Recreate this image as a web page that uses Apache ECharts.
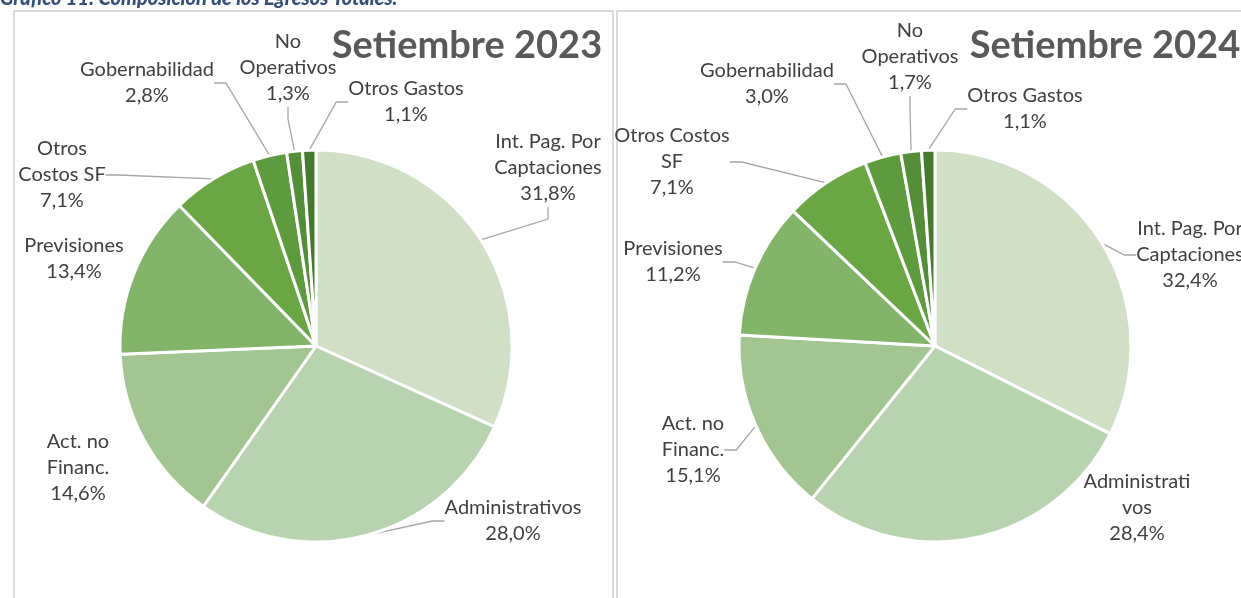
<!DOCTYPE html>
<html><head><meta charset="utf-8">
<script src="https://cdn.jsdelivr.net/npm/echarts@6/dist/echarts.min.js"></script>
<style>html,body{margin:0;padding:0;background:#fff;}#c{width:1241px;height:598px;}</style>
</head><body><div id="c"></div>
<script>
// ---- data ----
const categories = ['Int. Pag. Por Captaciones','Administrativos','Act. no Financ.','Previsiones','Otros Costos SF','Gobernabilidad','No Operativos','Otros Gastos'];
const values2023 = [31.8, 28.0, 14.6, 13.4, 7.1, 2.8, 1.3, 1.1];
const values2024 = [32.4, 28.4, 15.1, 11.2, 7.1, 3.0, 1.7, 1.1];
const labels2023 = ['Int. Pag. Por\nCaptaciones','Administrativos','Act. no\nFinanc.','Previsiones','Otros\nCostos SF','Gobernabilidad','No\nOperativos','Otros Gastos'];
const labels2024 = ['Int. Pag. Por\nCaptaciones','Administrati\nvos','Act. no\nFinanc.','Previsiones','Otros Costos\nSF','Gobernabilidad','No\nOperativos','Otros Gastos'];
const titles = ['Setiembre 2023','Setiembre 2024'];
const headerText = 'Gráfico 11: Composición de los Egresos Totales.';

// ---- style / layout ----
const colors = ['#CFE0C7','#B7D3AF','#A2C592','#82B46A','#6AA644','#5E9A3E','#548E38','#467A2F'];
const labelPos = [
  [[548,168],[513,521],[78,468],[74,259],[62,175],[147,83],[288,68],[406,102]],
  [[1190,255],[1137,508],[693,450],[673,262],[672,162],[767,84],[910,57],[1025,109]]
];
const lineShow = [
  [true,true,false,false,true,true,true,true],
  [true,false,true,true,true,true,true,true]
];
const FONT = 'Lato';
const fmt = v => v.toFixed(1).replace('.', ',') + '%';

function makeSeries(idx, values, labels, center) {
  return {
    type: 'pie',
    center: center,
    radius: 196,
    startAngle: 90,
    clockwise: true,
    avoidLabelOverlap: false,
    animation: false,
    itemStyle: { borderColor: '#fff', borderWidth: 3 },
    label: {
      show: true,
      position: 'outside',
      fontFamily: FONT,
      fontSize: 20,
      lineHeight: 26,
      color: '#404040',
      align: 'center',
      formatter: p => labels[p.dataIndex] + '\n' + fmt(p.value)
    },
    labelLine: { show: true, length: 10, length2: 12, lineStyle: { color: '#A6A6A6', width: 1.3 } },
    labelLayout: function (p) {
      const pos = labelPos[idx][p.dataIndex];
      return { x: pos[0], y: pos[1], align: 'center', verticalAlign: 'middle', hideOverlap: false };
    },
    emphasis: { disabled: true },
    data: values.map((v, i) => ({
      name: categories[i], value: v,
      itemStyle: { color: colors[i] },
      labelLine: { show: lineShow[idx][i] }
    }))
  };
}

const chart = echarts.init(document.getElementById('c'), null, { renderer: 'canvas' });
chart.setOption({
  backgroundColor: '#fff',
  graphic: [
    { type: 'rect', shape: { x: 14, y: 11, width: 599, height: 640 }, style: { fill: 'none', stroke: '#D9D9D9', lineWidth: 2 }, z: 0 },
    { type: 'rect', shape: { x: 617, y: 11, width: 700, height: 640 }, style: { fill: 'none', stroke: '#D9D9D9', lineWidth: 2 }, z: 0 },
    { type: 'text', left: 0, top: -11, style: { text: headerText, font: 'italic 900 20px ' + FONT, fill: '#34507A' }, z: 10 },
    { type: 'text', x: 467, y: 46, style: { text: titles[0], font: 'bold 38px ' + FONT, fill: '#595959', align: 'center', verticalAlign: 'middle' } },
    { type: 'text', x: 1105, y: 46, style: { text: titles[1], font: 'bold 38px ' + FONT, fill: '#595959', align: 'center', verticalAlign: 'middle' } }
  ],
  series: [
    makeSeries(0, values2023, labels2023, [316, 346]),
    makeSeries(1, values2024, labels2024, [935, 346])
  ]
});
</script></body></html>
